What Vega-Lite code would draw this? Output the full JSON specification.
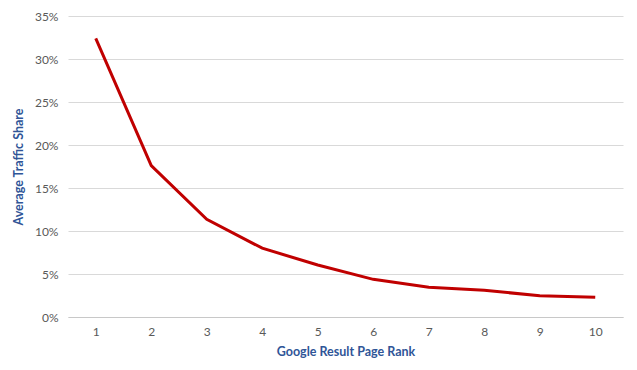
{
  "$schema": "https://vega.github.io/schema/vega-lite/v6.json",
  "width": 555,
  "height": 301,
  "autosize": {"type": "none"},
  "padding": {"left": 68, "top": 16, "right": 14, "bottom": 53},
  "background": "white",
  "data": {
    "values": [
      {"rank": 1, "share": 0.324},
      {"rank": 2, "share": 0.176},
      {"rank": 3, "share": 0.1136},
      {"rank": 4, "share": 0.080},
      {"rank": 5, "share": 0.0605},
      {"rank": 6, "share": 0.0438},
      {"rank": 7, "share": 0.0345},
      {"rank": 8, "share": 0.031},
      {"rank": 9, "share": 0.0248},
      {"rank": 10, "share": 0.023}
    ]
  },
  "mark": {"type": "line", "color": "#C00000", "strokeWidth": 3},
  "encoding": {
    "x": {
      "field": "rank",
      "type": "ordinal",
      "scale": {"type": "point", "padding": 0.5},
      "axis": {
        "title": "Google Result Page Rank",
        "labelAngle": 0,
        "ticks": false,
        "domain": true,
        "domainColor": "#c8c8c8",
        "labelPadding": 9,
        "labelFont": "Lato",
        "labelFontSize": 12,
        "labelColor": "#595959",
        "titleFont": "Lato",
        "titleFontSize": 12.5,
        "titleFontWeight": "bold",
        "titleColor": "#2F5597",
        "titlePadding": 8
      }
    },
    "y": {
      "field": "share",
      "type": "quantitative",
      "scale": {"domain": [0, 0.35], "nice": false},
      "axis": {
        "title": "Average Traffic Share",
        "format": ".0%",
        "values": [0, 0.05, 0.1, 0.15, 0.2, 0.25, 0.3, 0.35],
        "ticks": false,
        "domain": false,
        "grid": true,
        "gridColor": "#d9d9d9",
        "labelPadding": 10,
        "labelFont": "Lato",
        "labelFontSize": 12,
        "labelColor": "#595959",
        "titleFont": "Lato",
        "titleFontSize": 12.5,
        "titleFontWeight": "bold",
        "titleColor": "#2F5597",
        "titlePadding": 9
      }
    }
  },
  "config": {"view": {"stroke": null}}
}
